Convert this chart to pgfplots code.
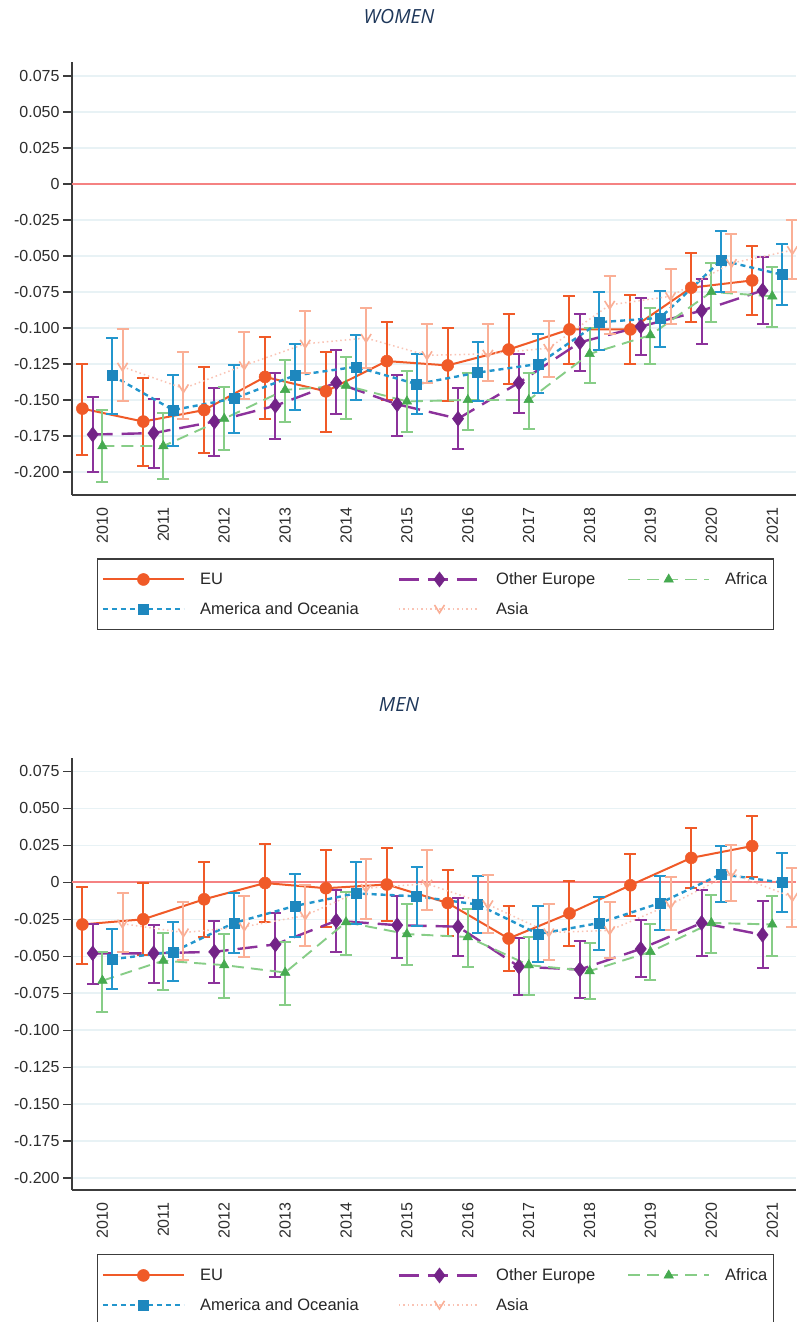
\documentclass[border=0pt]{standalone}
\usepackage{pgfplots}
\pgfplotsset{compat=1.18}
\usepackage{pgfplotstable}
\usepackage{fontspec}
\setmainfont{Liberation Sans}
\newfontfamily\titlefont{Open Sans}
\usetikzlibrary{plotmarks}

\definecolor{cEU}{RGB}{240,90,40}
\definecolor{cOE}{RGB}{140,50,155}
\definecolor{cOEm}{RGB}{115,35,135}
\definecolor{cAF}{RGB}{135,205,135}
\definecolor{cAFm}{RGB}{70,170,80}
\definecolor{cAM}{RGB}{35,150,205}
\definecolor{cAMm}{RGB}{30,135,190}
\definecolor{cAS}{RGB}{250,175,150}
\definecolor{cASl}{RGB}{250,195,180}
\definecolor{axgray}{RGB}{60,60,60}
\definecolor{labgray}{RGB}{45,45,45}
\definecolor{gridc}{RGB}{232,242,245}
\definecolor{zeroc}{RGB}{245,130,130}
\definecolor{titleblue}{RGB}{30,55,90}

\pgfdeclareplotmark{vee}{%
  \pgfpathmoveto{\pgfqpoint{-\pgfplotmarksize}{0.8\pgfplotmarksize}}%
  \pgfpathlineto{\pgfqpoint{0pt}{-0.8\pgfplotmarksize}}%
  \pgfpathlineto{\pgfqpoint{\pgfplotmarksize}{0.8\pgfplotmarksize}}%
  \pgfusepathqstroke}

% ---------------- WOMEN ----------------
\pgfplotstableread{
yr v lo hi
2010 -0.156 -0.188 -0.125
2011 -0.165 -0.196 -0.135
2012 -0.157 -0.187 -0.127
2013 -0.134 -0.163 -0.106
2014 -0.144 -0.172 -0.117
2015 -0.123 -0.150 -0.096
2016 -0.126 -0.151 -0.100
2017 -0.115 -0.139 -0.090
2018 -0.101 -0.125 -0.078
2019 -0.101 -0.125 -0.077
2020 -0.072 -0.096 -0.048
2021 -0.067 -0.091 -0.043
}\WEU
\pgfplotstableread{
yr v lo hi
2010 -0.174 -0.200 -0.148
2011 -0.173 -0.197 -0.149
2012 -0.165 -0.189 -0.142
2013 -0.154 -0.177 -0.131
2014 -0.138 -0.160 -0.115
2015 -0.153 -0.175 -0.133
2016 -0.163 -0.184 -0.142
2017 -0.138 -0.159 -0.118
2018 -0.110 -0.130 -0.090
2019 -0.099 -0.119 -0.079
2020 -0.088 -0.111 -0.066
2021 -0.074 -0.097 -0.051
}\WOE
\pgfplotstableread{
yr v lo hi
2010 -0.182 -0.207 -0.157
2011 -0.182 -0.205 -0.159
2012 -0.163 -0.185 -0.141
2013 -0.143 -0.165 -0.122
2014 -0.140 -0.163 -0.120
2015 -0.151 -0.172 -0.130
2016 -0.150 -0.171 -0.131
2017 -0.150 -0.170 -0.131
2018 -0.118 -0.138 -0.100
2019 -0.105 -0.125 -0.086
2020 -0.075 -0.096 -0.055
2021 -0.078 -0.099 -0.058
}\WAF
\pgfplotstableread{
yr v lo hi
2010 -0.133 -0.160 -0.107
2011 -0.157 -0.182 -0.133
2012 -0.149 -0.173 -0.126
2013 -0.133 -0.157 -0.111
2014 -0.127 -0.150 -0.105
2015 -0.139 -0.160 -0.118
2016 -0.131 -0.151 -0.110
2017 -0.125 -0.145 -0.104
2018 -0.096 -0.115 -0.075
2019 -0.093 -0.113 -0.074
2020 -0.053 -0.075 -0.033
2021 -0.063 -0.084 -0.042
}\WAM
\pgfplotstableread{
yr v lo hi
2010 -0.127 -0.151 -0.101
2011 -0.142 -0.163 -0.117
2012 -0.126 -0.149 -0.103
2013 -0.111 -0.131 -0.088
2014 -0.107 -0.128 -0.086
2015 -0.119 -0.138 -0.097
2016 -0.118 -0.137 -0.097
2017 -0.114 -0.134 -0.095
2018 -0.084 -0.104 -0.064
2019 -0.078 -0.097 -0.059
2020 -0.055 -0.075 -0.035
2021 -0.046 -0.066 -0.025
}\WAS

% ---------------- MEN ----------------
\pgfplotstableread{
yr v lo hi
2010 -0.0285 -0.055 -0.003
2011 -0.025 -0.049 -0.0005
2012 -0.0115 -0.037 0.014
2013 -0.0005 -0.027 0.026
2014 -0.004 -0.030 0.022
2015 -0.0015 -0.026 0.023
2016 -0.014 -0.0365 0.0085
2017 -0.038 -0.060 -0.016
2018 -0.021 -0.043 0.0007
2019 -0.002 -0.0225 0.019
2020 0.0165 -0.0036 0.037
2021 0.0245 0.0036 0.045
}\MEU
\pgfplotstableread{
yr v lo hi
2010 -0.048 -0.069 -0.028
2011 -0.048 -0.068 -0.029
2012 -0.047 -0.068 -0.026
2013 -0.042 -0.064 -0.021
2014 -0.026 -0.047 -0.005
2015 -0.029 -0.051 -0.009
2016 -0.030 -0.050 -0.0105
2017 -0.057 -0.0765 -0.0375
2018 -0.059 -0.0785 -0.040
2019 -0.045 -0.064 -0.0258
2020 -0.0275 -0.050 -0.0055
2021 -0.0355 -0.058 -0.0127
}\MOE
\pgfplotstableread{
yr v lo hi
2010 -0.0665 -0.088 -0.047
2011 -0.053 -0.073 -0.034
2012 -0.056 -0.078 -0.035
2013 -0.061 -0.083 -0.0405
2014 -0.027 -0.049 -0.0065
2015 -0.035 -0.056 -0.015
2016 -0.037 -0.057 -0.018
2017 -0.056 -0.076 -0.037
2018 -0.060 -0.079 -0.041
2019 -0.047 -0.066 -0.0285
2020 -0.0275 -0.0475 -0.0085
2021 -0.0285 -0.050 -0.0095
}\MAF
\pgfplotstableread{
yr v lo hi
2010 -0.052 -0.072 -0.0315
2011 -0.047 -0.0665 -0.027
2012 -0.0275 -0.048 -0.007
2013 -0.016 -0.037 0.0055
2014 -0.0075 -0.028 0.0135
2015 -0.0095 -0.0295 0.0105
2016 -0.015 -0.034 0.004
2017 -0.035 -0.054 -0.016
2018 -0.0275 -0.046 -0.010
2019 -0.014 -0.032 0.004
2020 0.0055 -0.0135 0.0245
2021 -0.0002 -0.020 0.0195
}\MAM
\pgfplotstableread{
yr v lo hi
2010 -0.028 -0.047 -0.0075
2011 -0.034 -0.0525 -0.013
2012 -0.030 -0.0505 -0.0095
2013 -0.0225 -0.043 -0.002
2014 -0.004 -0.025 0.016
2015 -0.001 -0.019 0.0215
2016 -0.015 -0.034 0.005
2017 -0.034 -0.0525 -0.0145
2018 -0.0325 -0.051 -0.0135
2019 -0.015 -0.0325 0.0036
2020 0.006 -0.0127 0.0255
2021 -0.010 -0.030 0.0097
}\MAS

\pgfplotsset{
  errb/.style={
    /pgfplots/error bars/y dir=both,
    /pgfplots/error bars/y explicit,
    /pgfplots/error bars/error mark=-,
    /pgfplots/error bars/error bar style={solid, line width=2pt, color=#1},
    /pgfplots/error bars/error mark options={solid, rotate=90, line width=2pt, mark size=6pt, color=#1}},
  sEU/.style={color=cEU, line width=2pt, solid, mark=*, mark size=6pt,
    mark options={solid, fill=cEU, draw=cEU, line width=0.5pt}, errb=cEU},
  sOE/.style={color=cOE, line width=2.4pt, dash pattern=on 20pt off 9pt, mark=diamond*, mark size=7.5pt,
    mark options={solid, fill=cOEm, draw=cOEm, line width=0.5pt}, errb=cOE},
  sAF/.style={color=cAF, line width=1.9pt, dash pattern=on 12pt off 7pt, mark=triangle*, mark size=5.5pt,
    mark options={solid, fill=cAFm, draw=cAFm, line width=0.5pt}, errb=cAF},
  sAM/.style={color=cAM, line width=2.4pt, dash pattern=on 5pt off 4pt, mark=square*, mark size=5pt,
    mark options={solid, fill=cAMm, draw=cAMm, line width=0.5pt}, errb=cAM},
  sAS/.style={color=cASl, line width=1.5pt, dash pattern=on 1.5pt off 3pt, mark=vee, mark size=5pt,
    mark options={solid, draw=cAS, line width=1.6pt}, errb=cAS},
  leg/.style={legend style={at={(0.0345,#1)}, anchor=north west, draw=axgray, line width=1.5pt, fill=white,
    font=\fontsize{16.5}{19}\selectfont, text=black!85, inner xsep=4pt, inner ysep=12pt, row sep=12pt,
    /tikz/column 1/.style={column sep=13pt},
    /tikz/column 2/.style={column sep=37pt},
    /tikz/column 3/.style={column sep=13pt},
    /tikz/column 4/.style={column sep=30pt},
    /tikz/column 5/.style={column sep=13pt}}},
  panel/.style={
    scale only axis, width=724pt,
    xmin=2009.5, xmax=2021.39,
    axis x line*=bottom, axis y line*=left,
    axis line style={draw=axgray, line width=1.6pt},
    xtick={2010,2011,2012,2013,2014,2015,2016,2017,2018,2019,2020,2021},
    xticklabels={2010,2011,2012,2013,2014,2015,2016,2017,2018,2019,2020,2021},
    ytick={-0.2,-0.175,-0.15,-0.125,-0.1,-0.075,-0.05,-0.025,0,0.025,0.05,0.075},
    yticklabels={-0.200,-0.175,-0.150,-0.125,-0.100,-0.075,-0.050,-0.025,0,0.025,0.050,0.075},
    tick align=outside,
    ytick style={draw=axgray, line width=1.4pt},
    xtick style={draw=none},
    major tick length=9pt,
    ymajorgrids, grid style={draw=gridc, line width=1.5pt},
    ticklabel style={font=\fontsize{16}{18}\selectfont, text=labgray},
    xticklabel style={rotate=90, anchor=east},
    clip=false,
    legend columns=3,
    legend cell align=left,
    legend image code/.code={\draw[mark repeat=2, mark phase=2, ##1] plot coordinates {(0pt,0pt) (40.5pt,0pt) (81pt,0pt)};},
  }
}
\newcommand{\series}[3]{%
  \addplot[#1] table[x expr=\thisrow{yr}+#2, y=v,
    y error plus expr=\thisrow{hi}-\thisrow{v},
    y error minus expr=\thisrow{v}-\thisrow{lo}] {#3};}
\newcommand{\zeroline}{%
  \addplot[draw=zeroc, line width=2pt, forget plot] coordinates {(2009.5,0) (2021.39,0)};}

\begin{document}
\begin{tikzpicture}
\useasboundingbox (0pt,0pt) rectangle (796pt,-1322pt);
\fill[white] (0pt,0pt) rectangle (796pt,-1322pt);

\node[font=\titlefont\itshape\fontsize{19.5}{22}\selectfont, text=titleblue] at (399pt,-17pt) {WOMEN};
\node[font=\titlefont\itshape\fontsize{19.5}{22}\selectfont, text=titleblue] at (399pt,-705pt) {MEN};

\begin{axis}[panel, at={(72pt,-495pt)}, anchor=south west, height=433pt,
  ymin=-0.216, ymax=0.0847, leg=-0.1455]
\zeroline
\series{sEU}{-0.33}{\WEU}
\series{sOE}{-0.16}{\WOE}
\series{sAF}{0}{\WAF}
\series{sAM}{0.16}{\WAM}
\series{sAS}{0.33}{\WAS}
\legend{EU, Other Europe, Africa, America and Oceania, Asia}
\end{axis}

\begin{axis}[panel, at={(72pt,-1190pt)}, anchor=south west, height=432pt,
  ymin=-0.208, ymax=0.084, leg=-0.148]
\zeroline
\series{sEU}{-0.33}{\MEU}
\series{sOE}{-0.16}{\MOE}
\series{sAF}{0}{\MAF}
\series{sAM}{0.16}{\MAM}
\series{sAS}{0.33}{\MAS}
\legend{EU, Other Europe, Africa, America and Oceania, Asia}
\end{axis}
\end{tikzpicture}
\end{document}
